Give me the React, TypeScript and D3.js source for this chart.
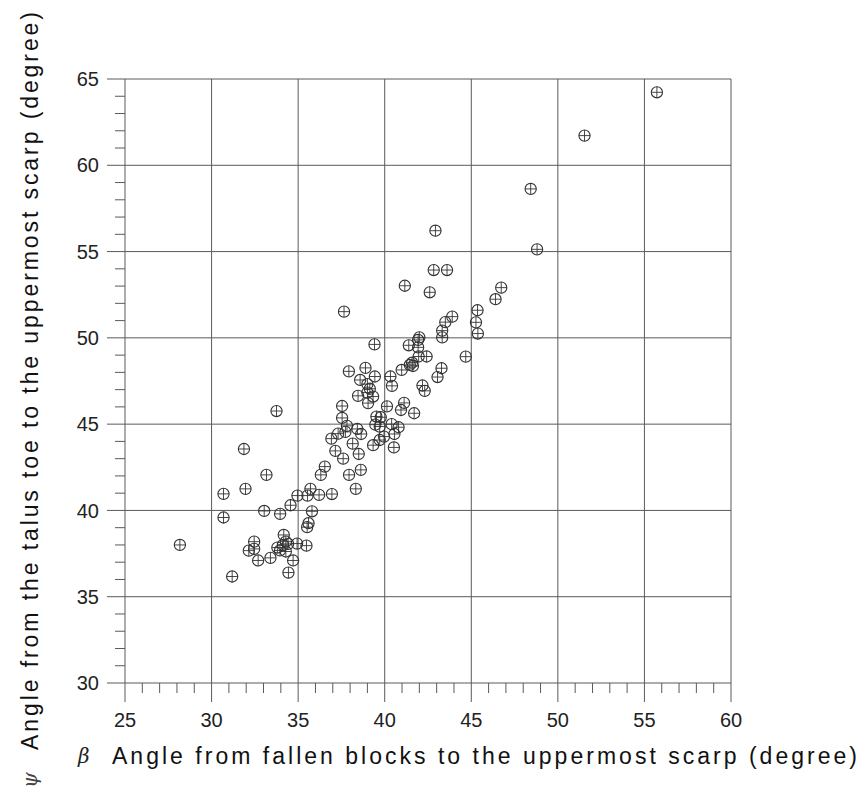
import React, { useEffect, useRef } from 'react';
import * as d3 from 'd3';

// beta: angle from fallen blocks to the uppermost scarp (degree)
const betaValues = [
  28.17, 30.69, 30.69, 31.19, 31.87, 31.96, 32.15, 32.46, 32.46, 32.69,
  33.04, 33.17, 33.4, 33.75, 33.96, 33.8, 33.95, 34.17, 34.29, 34.42,
  34.13, 34.29, 34.56, 34.71, 34.44, 34.96, 34.94, 35.48, 35.54, 35.71,
  35.8, 35.6, 35.52, 36.21, 36.31, 36.54, 36.95, 36.92, 37.15, 37.31,
  37.54, 37.54, 37.6, 37.65, 37.73, 37.82, 37.93, 37.94, 38.15, 38.33,
  38.42, 38.46, 38.5, 38.58, 38.62, 38.64, 38.89, 39.0, 39.14, 39.0,
  39.33, 39.04, 39.33, 39.41, 39.43, 39.52, 39.77, 39.46, 39.71, 39.71,
  39.96, 40.13, 40.33, 40.42, 40.4, 40.8, 40.56, 40.53, 40.94, 41.12,
  41.7, 40.98, 41.58, 41.45, 41.63, 41.39, 41.93, 41.93, 42.0, 41.96,
  42.42, 42.18, 42.31, 41.16, 42.6, 42.83, 43.6, 42.93, 43.05, 43.28,
  43.32, 43.32, 43.5, 43.9, 44.68, 45.36, 45.27, 45.38, 46.4, 46.73,
  48.43, 48.8, 51.54, 55.72
];

// psi: angle from the talus toe to the uppermost scarp (degree)
const psiValues = [
  38.0, 40.96, 39.59, 36.17, 43.56, 41.25, 37.67, 38.19, 37.77, 37.1,
  39.97, 42.06, 37.25, 45.76, 39.8, 37.85, 37.68, 38.58, 38.19, 38.06,
  38.0, 37.62, 40.3, 37.1, 36.4, 40.86, 38.08, 37.96, 40.86, 41.25,
  39.95, 39.26, 39.03, 40.9, 42.06, 42.54, 40.95, 44.16, 43.45, 44.45,
  46.05, 45.36, 43.0, 51.52, 44.55, 44.9, 48.06, 42.06, 43.87, 41.25,
  44.72, 46.64, 43.27, 47.56, 42.35, 44.43, 48.26, 47.32, 47.05, 46.83,
  46.6, 46.22, 43.78, 49.62, 47.76, 45.44, 45.4, 44.97, 44.86, 44.08,
  44.28, 46.03, 47.76, 47.22, 45.0, 44.82, 44.43, 43.65, 45.82, 46.23,
  45.63, 48.14, 48.56, 48.43, 48.37, 49.57, 49.45, 49.88, 50.03, 48.92,
  48.92, 47.24, 46.93, 53.02, 52.64, 53.93, 53.93, 56.21, 47.73, 48.24,
  50.03, 50.42, 50.91, 51.23, 48.91, 51.6, 50.9, 50.25, 52.24, 52.91,
  58.63, 55.13, 61.72, 64.23
];

const xTicks = [25, 30, 35, 40, 45, 50, 55, 60];
const yTicks = [30, 35, 40, 45, 50, 55, 60, 65];

const xTitle = 'Angle from fallen blocks to the uppermost scarp (degree)';
const yTitle = 'Angle from the talus toe to the uppermost scarp (degree)';

export default function App() {
  const ref = useRef<SVGSVGElement>(null);

  useEffect(() => {
    const svg = d3.select(ref.current);
    svg.selectAll('*').remove();

    const font = "'Liberation Sans', Arial, Helvetica, sans-serif";
    const gridColor = '#5a5a5a';
    const markColor = '#333';

    const x = d3.scaleLinear().domain([25, 60]).range([125, 731]);
    const y = d3.scaleLinear().domain([30, 65]).range([683, 79]);

    const g = svg.append('g');

    // minor ticks (every degree)
    const minorX = d3.range(26, 60).filter((v) => v % 5 !== 0);
    const minorY = d3.range(31, 65).filter((v) => v % 5 !== 0);

    g.selectAll('.xminor')
      .data(minorX)
      .enter().append('line')
      .attr('x1', (d) => x(d)).attr('x2', (d) => x(d))
      .attr('y1', y(30)).attr('y2', y(30) + 10)
      .attr('stroke', gridColor).attr('stroke-width', 1);

    g.selectAll('.yminor')
      .data(minorY)
      .enter().append('line')
      .attr('x1', x(25) - 10).attr('x2', x(25))
      .attr('y1', (d) => y(d)).attr('y2', (d) => y(d))
      .attr('stroke', gridColor).attr('stroke-width', 1);

    // major grid lines, poking out past the axes
    g.selectAll('.vgrid')
      .data(xTicks)
      .enter().append('line')
      .attr('x1', (d) => x(d)).attr('x2', (d) => x(d))
      .attr('y1', y(65)).attr('y2', y(30) + 19)
      .attr('stroke', gridColor).attr('stroke-width', 1);

    g.selectAll('.hgrid')
      .data(yTicks)
      .enter().append('line')
      .attr('x1', x(25) - 18).attr('x2', x(60))
      .attr('y1', (d) => y(d)).attr('y2', (d) => y(d))
      .attr('stroke', gridColor).attr('stroke-width', 1);

    // tick labels
    g.selectAll('.xlab')
      .data(xTicks)
      .enter().append('text')
      .attr('x', (d) => x(d))
      .attr('y', 727)
      .attr('text-anchor', 'middle')
      .style('font', `20px ${font}`)
      .attr('fill', '#222')
      .text((d) => d);

    g.selectAll('.ylab')
      .data(yTicks)
      .enter().append('text')
      .attr('x', 99)
      .attr('y', (d) => y(d))
      .attr('dy', '0.36em')
      .attr('text-anchor', 'end')
      .style('font', `20px ${font}`)
      .attr('fill', '#222')
      .text((d) => d);

    // points: circle with a cross
    const pts = betaValues.map((b, i) => ({ b, p: psiValues[i] }));
    const r = 5.6;
    const mark = g.selectAll('.pt')
      .data(pts)
      .enter().append('g')
      .attr('transform', (d) => `translate(${x(d.b)},${y(d.p)})`);
    mark.append('circle')
      .attr('r', r)
      .attr('fill', 'none')
      .attr('stroke', markColor)
      .attr('stroke-width', 1.1);
    mark.append('path')
      .attr('d', `M${-r},0H${r}M0,${-r}V${r}`)
      .attr('stroke', markColor)
      .attr('stroke-width', 0.9);

    // axis titles
    svg.append('text')
      .attr('x', 78).attr('y', 763)
      .style('font', `italic 20px 'DejaVu Serif', serif`)
      .attr('fill', '#222')
      .text('β');
    svg.append('text')
      .attr('x', 112).attr('y', 764)
      .attr('textLength', 745)
      .attr('lengthAdjust', 'spacing')
      .style('font', `23px ${font}`)
      .attr('fill', '#111')
      .text(xTitle);

    svg.append('text')
      .attr('transform', 'translate(37,788) rotate(-90)')
      .style('font', `italic 20px 'DejaVu Serif', serif`)
      .attr('fill', '#444')
      .text('ψ');
    svg.append('text')
      .attr('transform', 'translate(38,750) rotate(-90)')
      .attr('textLength', 738)
      .attr('lengthAdjust', 'spacing')
      .style('font', `23px ${font}`)
      .attr('fill', '#111')
      .text(yTitle);
  }, []);

  return (
    <svg
      ref={ref}
      width={861}
      height={788}
      style={{ position: 'absolute', left: 0, top: 0, background: '#fff' }}
    />
  );
}
